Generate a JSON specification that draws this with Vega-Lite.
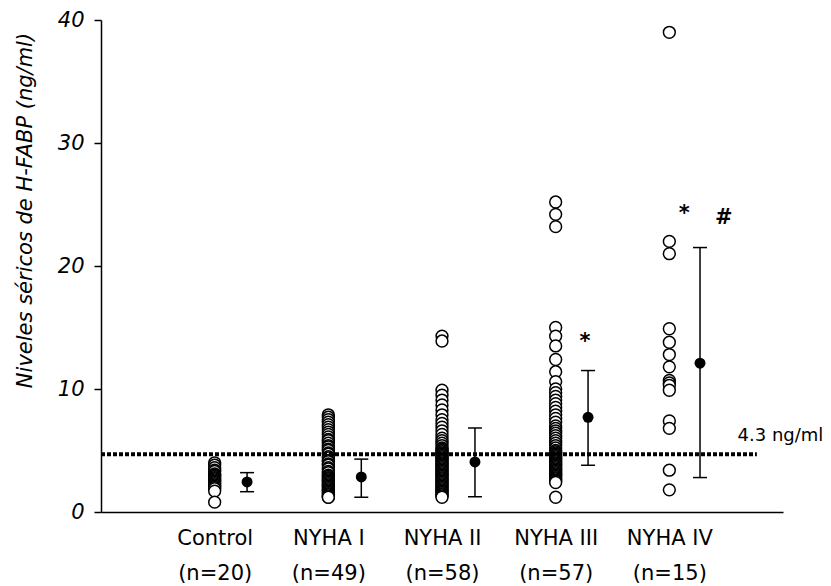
{
  "$schema": "https://vega.github.io/schema/vega-lite/v6.json",
  "width": 682,
  "height": 492,
  "autosize": {"type": "none"},
  "padding": {"left": 101, "top": 20, "right": 48, "bottom": 74},
  "config": {
    "view": {"stroke": null},
    "font": "DejaVu Sans",
    "axis": {"grid": false}
  },
  "datasets": {
    "pts": [
      {"g": 1, "v": 4.0}, {"g": 1, "v": 3.8}, {"g": 1, "v": 3.6}, {"g": 1, "v": 3.4}, {"g": 1, "v": 3.3},
      {"g": 1, "v": 3.1}, {"g": 1, "v": 3.0}, {"g": 1, "v": 2.9}, {"g": 1, "v": 2.8}, {"g": 1, "v": 2.7},
      {"g": 1, "v": 2.6}, {"g": 1, "v": 2.5}, {"g": 1, "v": 2.4}, {"g": 1, "v": 2.3}, {"g": 1, "v": 2.2},
      {"g": 1, "v": 2.1}, {"g": 1, "v": 2.0}, {"g": 1, "v": 1.9}, {"g": 1, "v": 1.7}, {"g": 1, "v": 0.8},

      {"g": 2, "v": 7.9}, {"g": 2, "v": 7.7}, {"g": 2, "v": 7.5}, {"g": 2, "v": 7.3}, {"g": 2, "v": 7.1},
      {"g": 2, "v": 6.9}, {"g": 2, "v": 6.7}, {"g": 2, "v": 6.5}, {"g": 2, "v": 6.3}, {"g": 2, "v": 6.1},
      {"g": 2, "v": 5.9}, {"g": 2, "v": 5.8}, {"g": 2, "v": 5.6}, {"g": 2, "v": 5.4}, {"g": 2, "v": 5.3},
      {"g": 2, "v": 5.1}, {"g": 2, "v": 5.0}, {"g": 2, "v": 4.8}, {"g": 2, "v": 4.7}, {"g": 2, "v": 4.5},
      {"g": 2, "v": 4.4}, {"g": 2, "v": 4.2}, {"g": 2, "v": 4.1}, {"g": 2, "v": 3.9}, {"g": 2, "v": 3.8},
      {"g": 2, "v": 3.6}, {"g": 2, "v": 3.5}, {"g": 2, "v": 3.3}, {"g": 2, "v": 3.2}, {"g": 2, "v": 3.0},
      {"g": 2, "v": 2.9}, {"g": 2, "v": 2.8}, {"g": 2, "v": 2.7}, {"g": 2, "v": 2.6}, {"g": 2, "v": 2.5},
      {"g": 2, "v": 2.4}, {"g": 2, "v": 2.3}, {"g": 2, "v": 2.2}, {"g": 2, "v": 2.1}, {"g": 2, "v": 2.0},
      {"g": 2, "v": 1.9}, {"g": 2, "v": 1.8}, {"g": 2, "v": 1.7}, {"g": 2, "v": 1.6}, {"g": 2, "v": 1.5},
      {"g": 2, "v": 1.4}, {"g": 2, "v": 1.3}, {"g": 2, "v": 1.2}, {"g": 2, "v": 1.2},

      {"g": 3, "v": 14.3}, {"g": 3, "v": 13.9},
      {"g": 3, "v": 9.9}, {"g": 3, "v": 9.5}, {"g": 3, "v": 9.1}, {"g": 3, "v": 8.7}, {"g": 3, "v": 8.3},
      {"g": 3, "v": 7.9}, {"g": 3, "v": 7.5}, {"g": 3, "v": 7.2}, {"g": 3, "v": 6.9}, {"g": 3, "v": 6.6},
      {"g": 3, "v": 6.3}, {"g": 3, "v": 6.0}, {"g": 3, "v": 5.8}, {"g": 3, "v": 5.6}, {"g": 3, "v": 5.4},
      {"g": 3, "v": 5.2}, {"g": 3, "v": 5.1}, {"g": 3, "v": 5.0}, {"g": 3, "v": 4.9}, {"g": 3, "v": 4.8},
      {"g": 3, "v": 4.7}, {"g": 3, "v": 4.6}, {"g": 3, "v": 4.5}, {"g": 3, "v": 4.4}, {"g": 3, "v": 4.3},
      {"g": 3, "v": 4.2}, {"g": 3, "v": 4.1}, {"g": 3, "v": 4.0}, {"g": 3, "v": 3.9}, {"g": 3, "v": 3.8},
      {"g": 3, "v": 3.7}, {"g": 3, "v": 3.6}, {"g": 3, "v": 3.5}, {"g": 3, "v": 3.4}, {"g": 3, "v": 3.3},
      {"g": 3, "v": 3.2}, {"g": 3, "v": 3.1}, {"g": 3, "v": 3.0}, {"g": 3, "v": 2.9}, {"g": 3, "v": 2.8},
      {"g": 3, "v": 2.7}, {"g": 3, "v": 2.6}, {"g": 3, "v": 2.5}, {"g": 3, "v": 2.4}, {"g": 3, "v": 2.3},
      {"g": 3, "v": 2.2}, {"g": 3, "v": 2.1}, {"g": 3, "v": 2.0}, {"g": 3, "v": 1.9}, {"g": 3, "v": 1.8},
      {"g": 3, "v": 1.7}, {"g": 3, "v": 1.6}, {"g": 3, "v": 1.5}, {"g": 3, "v": 1.4}, {"g": 3, "v": 1.3},
      {"g": 3, "v": 1.2},

      {"g": 4, "v": 25.2}, {"g": 4, "v": 24.2}, {"g": 4, "v": 23.2},
      {"g": 4, "v": 15.0}, {"g": 4, "v": 14.3}, {"g": 4, "v": 13.5}, {"g": 4, "v": 12.4}, {"g": 4, "v": 11.4},
      {"g": 4, "v": 10.6},
      {"g": 4, "v": 10.0}, {"g": 4, "v": 9.7}, {"g": 4, "v": 9.4}, {"g": 4, "v": 9.1}, {"g": 4, "v": 8.8},
      {"g": 4, "v": 8.5}, {"g": 4, "v": 8.2}, {"g": 4, "v": 7.9}, {"g": 4, "v": 7.6}, {"g": 4, "v": 7.3},
      {"g": 4, "v": 7.0}, {"g": 4, "v": 6.8}, {"g": 4, "v": 6.6}, {"g": 4, "v": 6.4}, {"g": 4, "v": 6.2},
      {"g": 4, "v": 6.0}, {"g": 4, "v": 5.8}, {"g": 4, "v": 5.6}, {"g": 4, "v": 5.4}, {"g": 4, "v": 5.2},
      {"g": 4, "v": 5.0}, {"g": 4, "v": 4.9}, {"g": 4, "v": 4.8}, {"g": 4, "v": 4.7}, {"g": 4, "v": 4.6},
      {"g": 4, "v": 4.5}, {"g": 4, "v": 4.4}, {"g": 4, "v": 4.3}, {"g": 4, "v": 4.2}, {"g": 4, "v": 4.1},
      {"g": 4, "v": 4.0}, {"g": 4, "v": 3.9}, {"g": 4, "v": 3.8}, {"g": 4, "v": 3.7}, {"g": 4, "v": 3.6},
      {"g": 4, "v": 3.5}, {"g": 4, "v": 3.4}, {"g": 4, "v": 3.3}, {"g": 4, "v": 3.2}, {"g": 4, "v": 3.1},
      {"g": 4, "v": 3.0}, {"g": 4, "v": 2.9}, {"g": 4, "v": 2.8}, {"g": 4, "v": 2.7}, {"g": 4, "v": 2.6},
      {"g": 4, "v": 2.5}, {"g": 4, "v": 2.4},
      {"g": 4, "v": 1.2},

      {"g": 5, "v": 39.0}, {"g": 5, "v": 22.0}, {"g": 5, "v": 21.0}, {"g": 5, "v": 14.9}, {"g": 5, "v": 13.8},
      {"g": 5, "v": 12.8}, {"g": 5, "v": 11.8}, {"g": 5, "v": 10.7}, {"g": 5, "v": 10.5}, {"g": 5, "v": 10.3},
      {"g": 5, "v": 9.9}, {"g": 5, "v": 7.4}, {"g": 5, "v": 6.8}, {"g": 5, "v": 3.4}, {"g": 5, "v": 1.8}
    ],
    "stats": [
      {"xm": 1.285, "m": 2.44, "lo": 1.65, "hi": 3.2},
      {"xm": 2.29, "m": 2.85, "lo": 1.2, "hi": 4.3},
      {"xm": 3.29, "m": 4.07, "lo": 1.24, "hi": 6.83},
      {"xm": 4.285, "m": 7.7, "lo": 3.8, "hi": 11.5},
      {"xm": 5.27, "m": 12.1, "lo": 2.8, "hi": 21.5}
    ],
    "cut": [{"x0": 0, "x1": 5.77, "y": 4.7}],
    "notes": [
      {"x": 4.258, "y": 13.3, "t": "*"},
      {"x": 5.13, "y": 23.7, "t": "*"},
      {"x": 5.48, "y": 23.4, "t": "#"}
    ],
    "cutlabel": [{"x": 5.6, "y": 5.8, "t": "4.3 ng/ml"}]
  },
  "layer": [
    {
      "data": {"name": "pts"},
      "mark": {"type": "point", "shape": "circle", "filled": true, "fill": "white", "stroke": "black", "strokeWidth": 1.5, "opacity": 1, "size": 140},
      "encoding": {
        "x": {
          "field": "g", "type": "quantitative",
          "scale": {"domain": [0, 6], "nice": false, "zero": false},
          "axis": {
            "values": [1, 2, 3, 4, 5],
            "title": null,
            "ticks": false,
            "domainColor": "black",
            "domainWidth": 1.5,
            "labelColor": "black",
            "labelFontSize": 21,
            "labelLineHeight": 35,
            "labelPadding": 15,
            "labelOverlap": false,
            "labelBound": false,
            "labelFlush": false,
            "labelExpr": "[['Control','(n=20)'],['NYHA I','(n=49)'],['NYHA II','(n=58)'],['NYHA III','(n=57)'],['NYHA IV','(n=15)']][datum.value-1]"
          }
        },
        "y": {
          "field": "v", "type": "quantitative",
          "scale": {"domain": [0, 40], "nice": false},
          "axis": {
            "values": [0, 10, 20, 30, 40],
            "title": "Niveles séricos de H-FABP (ng/ml)",
            "domainColor": "black",
            "domainWidth": 1.5,
            "tickColor": "black",
            "tickWidth": 1.5,
            "tickSize": 7,
            "labelColor": "black",
            "labelFontSize": 21,
            "labelFontStyle": "italic",
            "labelPadding": 10,
            "titleColor": "black",
            "titleFontSize": 21,
            "titleFontStyle": "italic",
            "titleFontWeight": "normal",
            "titleAngle": -90,
            "titleX": -76,
            "titleY": 190,
            "titleAlign": "center",
            "titleBaseline": "middle"
          }
        }
      }
    },
    {
      "data": {"name": "stats"},
      "mark": {"type": "rule", "color": "black", "strokeWidth": 1.5},
      "encoding": {
        "x": {"field": "xm", "type": "quantitative"},
        "y": {"field": "lo", "type": "quantitative"},
        "y2": {"field": "hi"}
      }
    },
    {
      "data": {"name": "stats"},
      "mark": {"type": "tick", "orient": "horizontal", "size": 14, "thickness": 1.5, "color": "black", "opacity": 1},
      "encoding": {
        "x": {"field": "xm", "type": "quantitative"},
        "y": {"field": "lo", "type": "quantitative"}
      }
    },
    {
      "data": {"name": "stats"},
      "mark": {"type": "tick", "orient": "horizontal", "size": 14, "thickness": 1.5, "color": "black", "opacity": 1},
      "encoding": {
        "x": {"field": "xm", "type": "quantitative"},
        "y": {"field": "hi", "type": "quantitative"}
      }
    },
    {
      "data": {"name": "stats"},
      "mark": {"type": "point", "shape": "circle", "filled": true, "color": "black", "opacity": 1, "size": 120},
      "encoding": {
        "x": {"field": "xm", "type": "quantitative"},
        "y": {"field": "m", "type": "quantitative"}
      }
    },
    {
      "data": {"name": "cut"},
      "mark": {"type": "rule", "color": "black", "strokeWidth": 4, "strokeDash": [4, 2]},
      "encoding": {
        "x": {"field": "x0", "type": "quantitative"},
        "x2": {"field": "x1"},
        "y": {"field": "y", "type": "quantitative"}
      }
    },
    {
      "data": {"name": "notes"},
      "mark": {"type": "text", "fontSize": 21, "fontWeight": "bold", "color": "black", "align": "center", "baseline": "alphabetic"},
      "encoding": {
        "x": {"field": "x", "type": "quantitative"},
        "y": {"field": "y", "type": "quantitative"},
        "text": {"field": "t"}
      }
    },
    {
      "data": {"name": "cutlabel"},
      "mark": {"type": "text", "fontSize": 18, "color": "black", "align": "left", "baseline": "alphabetic"},
      "encoding": {
        "x": {"field": "x", "type": "quantitative"},
        "y": {"field": "y", "type": "quantitative"},
        "text": {"field": "t"}
      }
    }
  ]
}
